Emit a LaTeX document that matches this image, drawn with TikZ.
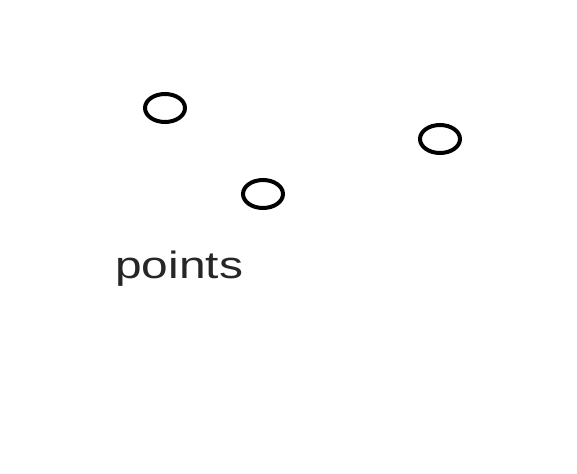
\documentclass[tikz,border=0pt]{standalone}
\usepackage{fontspec}
\setmainfont{Liberation Sans}
\usetikzlibrary{shapes.geometric}
\definecolor{inkgray}{HTML}{262626}
\begin{document}
\begin{tikzpicture}[
  x=1pt, y=1pt,
  point/.style={draw=black, ellipse, line width=4pt, inner sep=0pt, minimum width=40pt, minimum height=28pt},
  label/.style={inner sep=0pt, anchor=base west, text=inkgray, font=\fontsize{38}{40}\selectfont, xscale=1.26}
]
\useasboundingbox (0,0) rectangle (577,-473);
\node[point] (p1) at (165,-108) {};
\node[point] (p2) at (263,-194) {};
\node[point] (p3) at (440,-139) {};
\node[label] (name) at (115,-278) {points};
\end{tikzpicture}
\end{document}
